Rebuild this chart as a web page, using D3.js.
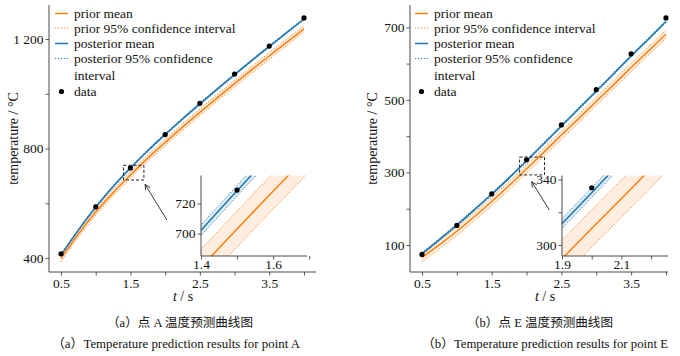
<!DOCTYPE html>
<html><head><meta charset="utf-8">
<script src="https://cdn.jsdelivr.net/npm/d3@7"></script>
<style>
body{margin:0;background:#fff;}
svg{display:block;}
svg text{font-family:'Liberation Serif','Noto Sans CJK SC',serif;}
</style></head>
<body><svg id="c" width="680" height="356"></svg>
<script>
// ---------- data ----------
const tGrid = [0.5,0.75,1.0,1.25,1.5,1.75,2.0,2.25,2.5,2.75,3.0,3.25,3.5,3.75,4.0];
const dataTimes = [0.5,1.0,1.5,2.0,2.5,3.0,3.5,4.0];

const priorMeanA = [399,488,568,638,703,765,822,878,932,985,1037,1088,1138,1188,1237];
const priorHalfA = [12,12,12,12,12,12,12,12,12,12,12,12,12,12,12];
const postMeanA  = [411,502,586,661,728.5,792,851,908,963,1017,1070,1122,1173,1223,1273];
const postHalfA  = [3.5,3.5,3.5,3.5,3.5,3.5,3.5,3.5,3.5,3.5,3.5,3.5,3.5,3.5,3.5];
const dataA      = [415,587,729,851,965,1072,1174,1277];

const priorMeanB = [66,101,138,178,220,264,310,356,403,449,496,542,589,635,681];
const priorHalfB = [11.5,11.5,11.5,11.5,11.5,11.5,11.5,11.5,11.5,11.5,11.5,11.5,11.5,11.5,11.5];
const postMeanB  = [76,115,155,197,240,285,332,380,428,476,524,572,621,668,716];
const postHalfB  = [3,3,3,3,3,3,3,3,3,3,3,3,3,3,3];
const dataB      = [74,154,241,335,431,528,627,726];

const xTicksMain = [0.5,1.0,1.5,2.0,2.5,3.0,3.5,4.0];
const xTickLabelsMain = ["0.5","","1.5","","2.5","","3.5",""];
const yTicksA = [400,600,800,1000,1200];
const yTickLabelsA = ["400","","800","","1 200"];
const yTicksB = [100,200,300,400,500,600,700];
const yTickLabelsB = ["100","","300","","500","","700"];

const insetXTicksA = [1.4,1.5,1.6,1.7];
const insetXLabelsA = ["1.4","","1.6",""];
const insetYTicksA = [700,720];
const insetYLabelsA = ["700","720"];
const insetXTicksB = [1.9,2.0,2.1,2.2];
const insetXLabelsB = ["1.9","","2.1",""];
const insetYTicksB = [300,320,340];
const insetYLabelsB = ["300","","340"];

const legendLabels = ["prior mean","prior 95% confidence interval","posterior mean","posterior 95% confidence","interval","data"];
const captionsCN = ["（a）点 A 温度预测曲线图","（b）点 E 温度预测曲线图"];
const captionsEN = ["（a）Temperature prediction results for point A","（b）Temperature prediction results for point E"];
const yLabel = "temperature / °C";

// ---------- styles ----------
const ORANGE = "#ff7f0e", BLUE = "#1f77b4";
const FONT = "'Liberation Serif','Noto Sans CJK SC',serif";
const svg = d3.select("#c");

function panel(cfg){
  const g = svg.append("g");
  const x = d3.scaleLinear().domain(cfg.xDom).range(cfg.xRange);
  const y = d3.scaleLinear().domain(cfg.yDom).range([272,5]);

  function drawSeries(layer, xs, ys, clipId){
    const L = layer.append("g");
    if(clipId) L.attr("clip-path", `url(#${clipId})`);
    const pts = (m,h)=> tGrid.map((t,i)=>({t, m:m[i], lo:m[i]-h[i], hi:m[i]+h[i]}));
    const pr = pts(cfg.priorMean,cfg.priorHalf), po = pts(cfg.postMean,cfg.postHalf);
    const area = d3.area().x(d=>xs(d.t)).y0(d=>ys(d.lo)).y1(d=>ys(d.hi)).curve(d3.curveMonotoneX);
    const line = acc => d3.line().x(d=>xs(d.t)).y(d=>ys(acc(d))).curve(d3.curveMonotoneX);
    L.append("path").datum(pr).attr("d",area).attr("fill",ORANGE).attr("fill-opacity",0.13);
    L.append("path").datum(po).attr("d",area).attr("fill",BLUE).attr("fill-opacity",0.15);
    [["lo",pr,ORANGE],["hi",pr,ORANGE],["lo",po,BLUE],["hi",po,BLUE]].forEach(([k,d,c])=>{
      L.append("path").datum(d).attr("d",line(p=>p[k])).attr("fill","none")
        .attr("stroke",c).attr("stroke-width",1).attr("stroke-dasharray","1.2,1.8");
    });
    L.append("path").datum(pr).attr("d",line(p=>p.m)).attr("fill","none").attr("stroke",ORANGE).attr("stroke-width",1.5);
    L.append("path").datum(po).attr("d",line(p=>p.m)).attr("fill","none").attr("stroke",BLUE).attr("stroke-width",1.5);
    L.selectAll("circle.d").data(dataTimes).join("circle")
      .attr("cx",(t)=>xs(t)).attr("cy",(t,i)=>ys(cfg.data[i])).attr("r",2.6).attr("fill","#000");
  }

  function axes(layer, xs, ys, xT, xL, yT, yL, fs, xPad){
    const ax = layer.append("g").attr("transform",`translate(0,${ys.range()[0]})`)
      .call(d3.axisBottom(xs).tickValues(xT).tickSize(3.5).tickPadding(xPad).tickFormat((d,i)=>xL[i]));
    const ay = layer.append("g").attr("transform",`translate(${xs.range()[0]},0)`)
      .call(d3.axisLeft(ys).tickValues(yT).tickSize(3.5).tickPadding(2).tickFormat((d,i)=>yL[i]));
    [ax,ay].forEach(a=>{
      a.attr("font-family",FONT);
      a.select(".domain").attr("stroke","#333").attr("stroke-width",0.9);
      a.selectAll(".tick line").attr("stroke","#333").attr("stroke-width",0.8);
      a.selectAll("text").style("font-family",FONT).attr("font-size",fs).attr("fill","#111");
    });
    ax.select(".domain").attr("d",`M${xs.range()[0]},0H${xs.range()[1]}`);
    ay.select(".domain").attr("d",`M0,${ys.range()[0]}V${ys.range()[1]}`);
  }

  drawSeries(g, x, y, null);
  axes(g, x, y, xTicksMain, xTickLabelsMain, cfg.yTicks, cfg.yTickLabels, 13.5, 3);

  const xl = g.append("text").attr("x",cfg.xLabelX).attr("y",301).attr("text-anchor","middle")
    .style("font-family",FONT).attr("font-size",14).attr("fill","#111");
  xl.append("tspan").attr("font-style","italic").text("t");
  xl.append("tspan").text(" / s");
  g.append("text").attr("transform",`translate(${cfg.yLabelX},${(5+272)/2}) rotate(-90)`)
    .attr("text-anchor","middle").attr("dominant-baseline","central").style("font-family",FONT)
    .attr("font-size",14).attr("fill","#111").text(yLabel);

  const ix = d3.scaleLinear().domain(cfg.inXDom).range(cfg.inXRange);
  const iy = d3.scaleLinear().domain(cfg.inYDom).range([256,175.5]);
  g.append("rect").attr("x",x(cfg.inXDom[0])).attr("y",y(cfg.inYDom[1]))
    .attr("width",x(cfg.inXDom[1])-x(cfg.inXDom[0])).attr("height",y(cfg.inYDom[0])-y(cfg.inYDom[1]))
    .attr("fill","none").attr("stroke","#222").attr("stroke-width",1).attr("stroke-dasharray","3,2");

  const ax0 = x(cfg.arrow[0]), ay0 = y(cfg.arrow[1]), ax1 = x(cfg.arrow[2]), ay1 = y(cfg.arrow[3]);
  g.append("line").attr("x1",ax0).attr("y1",ay0).attr("x2",ax1).attr("y2",ay1).attr("stroke","#222").attr("stroke-width",0.9);
  const ang = Math.atan2(ay1-ay0, ax1-ax0), hl = 6, hw = 0.45;
  g.append("path").attr("d",`M${ax1-hl*Math.cos(ang-hw)},${ay1-hl*Math.sin(ang-hw)}L${ax1},${ay1}L${ax1-hl*Math.cos(ang+hw)},${ay1-hl*Math.sin(ang+hw)}`)
    .attr("fill","none").attr("stroke","#222").attr("stroke-width",0.9);

  const ig = g.append("g");
  const clipId = "clip"+cfg.id;
  ig.append("clipPath").attr("id",clipId).append("rect")
    .attr("x",cfg.inXRange[0]).attr("y",175.5).attr("width",cfg.inXRange[1]-cfg.inXRange[0]).attr("height",256-175.5);
  ig.append("rect").attr("x",cfg.inXRange[0]).attr("y",175.5).attr("width",cfg.inXRange[1]-cfg.inXRange[0]).attr("height",256-175.5).attr("fill","#fff");
  drawSeries(ig, ix, iy, clipId);
  axes(ig, ix, iy, cfg.inXTicks, cfg.inXLabels, cfg.inYTicks, cfg.inYLabels, 13.5, 0);

  const lg = g.append("g");
  const lx = cfg.legendX, rows = [13.5,28,43.5,58.5,75,91.5];
  const handle = (yy,c,dash)=>lg.append("line").attr("x1",lx).attr("x2",lx+13).attr("y1",yy).attr("y2",yy)
      .attr("stroke",c).attr("stroke-width",dash?1:1.5).attr("stroke-dasharray",dash?"1.2,1.8":null);
  handle(rows[0],ORANGE,false); handle(rows[1],ORANGE,true);
  handle(rows[2],BLUE,false); handle(rows[3],BLUE,true);
  lg.append("circle").attr("cx",lx+6.5).attr("cy",rows[5]).attr("r",2.6).attr("fill","#000");
  legendLabels.forEach((s,i)=>{
    lg.append("text").attr("x",lx+19).attr("y",rows[i]+4.5)
      .style("font-family",FONT).attr("font-size",13.5).attr("fill","#111").text(s);
  });

  g.append("text").attr("x",cfg.capX1).attr("y",327).attr("text-anchor","middle")
    .style("font-family",FONT).attr("font-size",12.5).attr("fill","#111")
    .attr("textLength",146).attr("lengthAdjust","spacingAndGlyphs").text(cfg.capCN);
  g.append("text").attr("x",cfg.capX2).attr("y",348).attr("text-anchor","middle")
    .style("font-family",FONT).attr("font-size",12.5).attr("fill","#111")
    .attr("textLength",cfg.capW2).attr("lengthAdjust","spacingAndGlyphs").text(cfg.capEN);
}

panel({id:"A", xDom:[0.327,4.173], xRange:[49,316], yDom:[349,1324.2],
  priorMean:priorMeanA, priorHalf:priorHalfA, postMean:postMeanA, postHalf:postHalfA, data:dataA,
  yTicks:yTicksA, yTickLabels:yTickLabelsA, xLabelX:183, yLabelX:13,
  inXDom:[1.4,1.694], inXRange:[201,307], inYDom:[685,738.7],
  inXTicks:insetXTicksA, inXLabels:insetXLabelsA, inYTicks:insetYTicksA, inYLabels:insetYLabelsA,
  arrow:[2.024,539,1.711,669], legendX:55,
  capX1:180, capX2:176, capW2:248, capCN:captionsCN[0], capEN:captionsEN[0]});

panel({id:"B", xDom:[0.328,4.029], xRange:[410,668], yDom:[25.6,761.5],
  priorMean:priorMeanB, priorHalf:priorHalfB, postMean:postMeanB, postHalf:postHalfB, data:dataB,
  yTicks:yTicksB, yTickLabels:yTickLabelsB, xLabelX:545, yLabelX:372,
  inXDom:[1.9,2.257], inXRange:[562,668], inYDom:[293.2,342.5],
  inXTicks:insetXTicksB, inXLabels:insetXLabelsB, inYTicks:insetYTicksB, inYLabels:insetYLabelsB,
  arrow:[2.327,196.5,2.074,274.5], legendX:415,
  capX1:540, capX2:545, capW2:246, capCN:captionsCN[1], capEN:captionsEN[1]});
</script></body></html>
